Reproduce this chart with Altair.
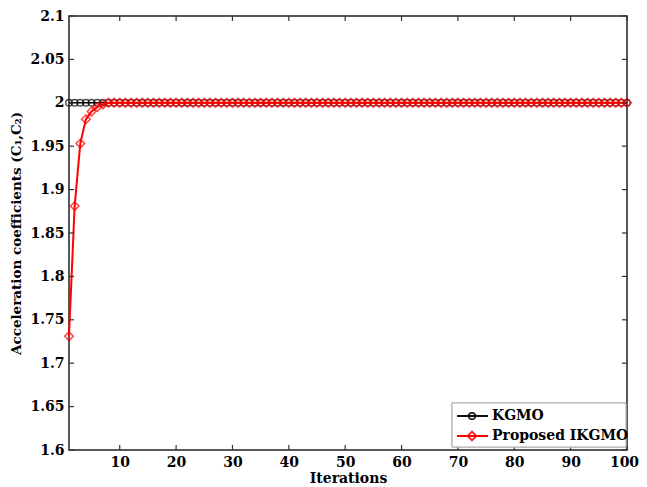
import altair as alt
import pandas as pd

iterations = list(range(1, 101))
kgmo = [2.0] * 100
ikgmo = [1.731, 1.881, 1.953, 1.981, 1.990, 1.995, 1.998] + [2.0] * 93
x_ticks = [10, 20, 30, 40, 50, 60, 70, 80, 90, 100]
y_ticks = [1.6, 1.65, 1.7, 1.75, 1.8, 1.85, 1.9, 1.95, 2.0, 2.05, 2.1]
legend_labels = ["KGMO", "Proposed IKGMO"]

FONT = "DejaVu Serif"
W, H = 558, 434

df = pd.DataFrame({"it": iterations, "kgmo": kgmo, "ikgmo": ikgmo})
xs = alt.Scale(domain=[1, 100], nice=False, zero=False)
ys = alt.Scale(domain=[1.6, 2.1], nice=False, zero=False)

xax = alt.Axis(values=x_ticks, ticks=False, grid=False, domain=False,
               labelFont=FONT, labelFontWeight="bold", labelFontSize=14,
               labelColor="black", labelPadding=5, title="Iterations",
               labelOffset={"condition": {"test": "datum.value == 100", "value": -3}, "value": 0},
               titleFont=FONT, titleFontWeight="bold", titleFontSize=14,
               titleColor="black", titlePadding=2, labelFlush=False)
yax = alt.Axis(values=y_ticks, format=".2~f", ticks=False, grid=False, domain=False,
               labelFont=FONT, labelFontWeight="bold", labelFontSize=14,
               labelColor="black", labelPadding=5,
               title="Acceleration coefficients (C₁,C₂)",
               titleFont=FONT, titleFontWeight="bold", titleFontSize=13.5,
               titleColor="black", titlePadding=6, labelFlush=False)

base = alt.Chart(df)
k_line = base.mark_line(color="black", strokeWidth=1.5).encode(
    x=alt.X("it:Q", scale=xs, axis=xax), y=alt.Y("kgmo:Q", scale=ys, axis=yax))
k_pts = base.mark_point(shape="circle", filled=False, color="black", size=42, strokeWidth=1.4).encode(
    x=alt.X("it:Q", scale=xs), y=alt.Y("kgmo:Q", scale=ys))
i_line = base.mark_line(color="red", strokeWidth=2).encode(
    x=alt.X("it:Q", scale=xs), y=alt.Y("ikgmo:Q", scale=ys))
i_pts = base.mark_point(shape="diamond", filled=False, color="red", size=75, strokeWidth=1.6).encode(
    x=alt.X("it:Q", scale=xs), y=alt.Y("ikgmo:Q", scale=ys))

xt = alt.Chart(pd.DataFrame({"t": x_ticks}))
yt = alt.Chart(pd.DataFrame({"t": y_ticks}))
tick_color = "#333333"
xb = xt.mark_rule(color=tick_color, strokeWidth=1.2).encode(x=alt.X("t:Q", scale=xs), y=alt.value(H), y2=alt.value(H - 5))
xtp = xt.mark_rule(color=tick_color, strokeWidth=1.2).encode(x=alt.X("t:Q", scale=xs), y=alt.value(0), y2=alt.value(5))
yl = yt.mark_rule(color=tick_color, strokeWidth=1.2).encode(y=alt.Y("t:Q", scale=ys), x=alt.value(0), x2=alt.value(5))
yr = yt.mark_rule(color=tick_color, strokeWidth=1.2).encode(y=alt.Y("t:Q", scale=ys), x=alt.value(W), x2=alt.value(W - 5))

# legend (pixel positions inside the plot area)
LX0, LX1, LY0, LY1 = 383, 557, 387, 431
lg = alt.Chart(pd.DataFrame({"label": legend_labels}))
box = lg.mark_rect(fill="white", stroke="#aaaaaa", strokeWidth=1).encode(
    x=alt.value(LX0), x2=alt.value(LX1), y=alt.value(LY0), y2=alt.value(LY1))
r1 = lg.mark_rule(color="black", strokeWidth=1.5).encode(x=alt.value(LX0 + 5), x2=alt.value(LX0 + 36), y=alt.value(400))
r2 = lg.mark_rule(color="red", strokeWidth=2).encode(x=alt.value(LX0 + 5), x2=alt.value(LX0 + 36), y=alt.value(420))
p1 = lg.mark_point(shape="circle", filled=False, color="black", size=42, strokeWidth=1.4).encode(
    x=alt.value(LX0 + 20), y=alt.value(400))
p2 = lg.mark_point(shape="diamond", filled=False, color="red", size=75, strokeWidth=1.6).encode(
    x=alt.value(LX0 + 20), y=alt.value(420))
t1 = alt.Chart(pd.DataFrame({"label": [legend_labels[0]]})).mark_text(
    font=FONT, fontWeight="bold", fontSize=14, align="left", baseline="middle", color="black").encode(
    x=alt.value(LX0 + 40), y=alt.value(400), text="label:N")
t2 = alt.Chart(pd.DataFrame({"label": [legend_labels[1]]})).mark_text(
    font=FONT, fontWeight="bold", fontSize=14, align="left", baseline="middle", color="black").encode(
    x=alt.value(LX0 + 40), y=alt.value(420), text="label:N")

chart = alt.layer(k_line, k_pts, i_line, i_pts, xb, xtp, yl, yr,
                  box, r1, r2, p1, p2, t1, t2).properties(
    width=W, height=H,
    padding={"left": 61, "top": 8, "right": 12, "bottom": 37},
    autosize="none",
    background="white",
).configure_view(stroke="#222222", strokeWidth=1.5)

chart.save("out.html", embed_options={"renderer": "svg", "actions": False})
